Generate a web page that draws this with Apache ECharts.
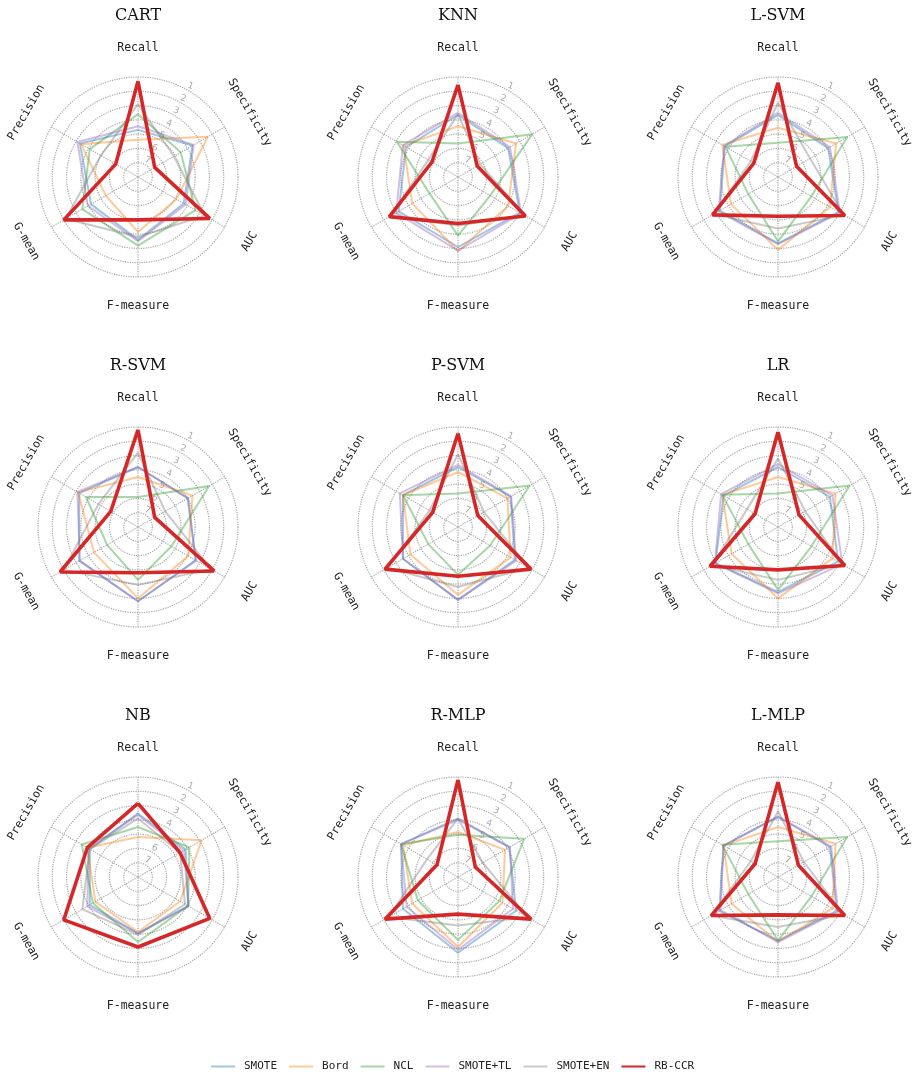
<!DOCTYPE html>
<html><head><meta charset="utf-8">
<script src="https://cdn.jsdelivr.net/npm/echarts@6/dist/echarts.min.js"></script>
<style>html,body{margin:0;padding:0;background:#fff}#c{width:917px;height:1072px}</style>
</head><body><div id="c"></div>
<script>
// ---- data ----
const metrics = ['Recall', 'Specificity', 'AUC', 'F-measure', 'G-mean', 'Precision'];
const metricAngles = [0, 60, 120, 180, 240, 300];
const methods = ['SMOTE', 'Bord', 'NCL', 'SMOTE+TL', 'SMOTE+EN', 'RB-CCR'];
const classifiers = ['CART', 'KNN', 'L-SVM', 'R-SVM', 'P-SVM', 'LR', 'NB', 'R-MLP', 'L-MLP'];
const rankTicks = [1, 2, 3, 4, 5, 6, 7];

// average ranks, order of metrics: Recall, Specificity, AUC, F-measure, G-mean, Precision
// rows: SMOTE, Bord, NCL, SMOTE+TL, SMOTE+EN, RB-CCR
const CART = [
  [4.70, 3.60, 4.30, 3.60, 4.20, 3.30],
  [5.40, 2.35, 4.90, 4.15, 5.40, 3.40],
  [3.60, 4.55, 3.35, 3.20, 3.50, 4.10],
  [4.45, 3.50, 4.15, 3.50, 3.95, 3.10],
  [2.90, 5.10, 2.60, 3.80, 2.15, 5.00],
  [1.30, 6.65, 2.20, 5.00, 2.00, 6.20]
];
const KNN = [
  [3.65, 3.95, 3.00, 3.10, 3.20, 3.80],
  [4.45, 3.30, 3.95, 2.80, 4.30, 3.60],
  [5.65, 2.00, 5.40, 3.90, 5.70, 3.05],
  [3.50, 3.80, 2.90, 2.85, 3.00, 3.55],
  [3.60, 6.20, 2.60, 4.60, 2.50, 5.60],
  [1.55, 6.45, 2.55, 4.75, 2.45, 5.90]
];
const LSVM = [
  [3.65, 3.95, 3.10, 3.35, 3.30, 3.70],
  [4.55, 3.30, 3.80, 2.90, 4.20, 3.50],
  [5.60, 2.40, 5.30, 3.50, 5.60, 3.75],
  [3.50, 3.80, 3.00, 3.30, 3.20, 3.65],
  [2.80, 5.40, 2.70, 4.40, 2.80, 5.80],
  [1.40, 6.50, 2.60, 5.25, 2.70, 6.05]
];
const RSVM = [
  [3.80, 3.95, 3.35, 2.80, 3.25, 3.25],
  [4.50, 3.60, 3.95, 3.00, 4.45, 3.15],
  [5.90, 2.25, 5.30, 4.30, 5.50, 3.80],
  [3.80, 4.00, 3.30, 2.80, 3.30, 3.10],
  [2.80, 5.80, 2.10, 3.95, 2.00, 4.80],
  [1.20, 6.65, 1.85, 4.80, 1.70, 5.80]
];
const PSVM = [
  [3.80, 3.75, 3.40, 2.90, 3.55, 3.55],
  [4.15, 4.00, 3.75, 3.25, 4.15, 3.55],
  [5.65, 2.20, 5.40, 4.65, 5.60, 3.55],
  [3.65, 3.70, 3.30, 2.90, 3.55, 3.30],
  [2.90, 5.90, 2.30, 3.80, 2.30, 5.70],
  [1.45, 6.40, 2.10, 4.55, 2.10, 5.95]
];
const LR = [
  [3.80, 3.80, 3.15, 3.45, 2.95, 3.60],
  [4.50, 3.35, 3.60, 3.00, 4.25, 3.50],
  [5.65, 2.20, 5.30, 3.60, 5.60, 3.50],
  [3.60, 3.60, 2.80, 3.35, 2.90, 3.40],
  [3.20, 5.80, 2.80, 4.30, 2.70, 5.50],
  [1.35, 6.30, 2.60, 5.00, 2.50, 6.15]
];
const NB = [
  [3.55, 4.15, 3.95, 4.05, 4.10, 4.10],
  [5.20, 2.85, 4.60, 4.15, 4.55, 3.90],
  [4.50, 3.85, 3.95, 3.45, 4.35, 3.45],
  [3.65, 4.30, 3.90, 4.05, 3.90, 4.00],
  [3.90, 4.60, 4.20, 3.95, 3.50, 4.10],
  [2.85, 4.60, 2.20, 3.10, 2.00, 3.90]
];
const RMLP = [
  [3.90, 3.85, 3.30, 2.70, 3.55, 3.40],
  [4.85, 4.20, 4.40, 3.10, 4.30, 3.55],
  [5.05, 2.65, 4.65, 3.60, 4.75, 3.40],
  [4.00, 3.80, 3.55, 2.90, 3.85, 3.40],
  [3.90, 6.00, 2.40, 4.60, 2.40, 5.50],
  [1.20, 6.60, 2.10, 5.40, 2.10, 6.30]
];
const LMLP = [
  [3.80, 3.80, 3.25, 3.55, 3.25, 3.60],
  [4.50, 3.35, 3.60, 3.45, 4.25, 3.60],
  [5.50, 2.40, 5.30, 3.55, 5.60, 3.50],
  [3.75, 3.70, 3.15, 3.45, 3.35, 3.60],
  [3.40, 5.90, 2.70, 4.50, 2.60, 5.80],
  [1.35, 6.35, 2.60, 5.35, 2.60, 6.15]
];
const tables = [CART, KNN, LSVM, RSVM, PSVM, LR, NB, RMLP, LMLP];

// ---- styles / layout ----
const colors = ['#1f77b4', '#ff7f0e', '#2ca02c', '#9467bd', '#7f7f7f', '#d62728'];
const opac = [0.42, 0.42, 0.42, 0.42, 0.42, 1];
const widths = [2, 2, 2, 2, 2, 3.6];
const colX = [138, 458, 778];
const rowY = [177, 527, 877];
const R = 100;
const gridColor = '#a8a8a8';

const chart = echarts.init(document.getElementById('c'));

const polar = [], angleAxis = [], radiusAxis = [], series = [];
classifiers.forEach((c, i) => {
  const cx = colX[i % 3], cy = rowY[Math.floor(i / 3)];
  polar.push({ center: [cx, cy], radius: R });
  angleAxis.push({
    polarIndex: i, type: 'value', min: 0, max: 360, interval: 60, startAngle: 90, clockwise: true,
    axisLine: { show: false }, axisTick: { show: false }, axisLabel: { show: false },
    splitLine: { show: true, lineStyle: { color: gridColor, type: 'dotted', width: 1.2 } }
  });
  radiusAxis.push({
    polarIndex: i, type: 'value', min: 1, max: 8, interval: 1, inverse: true,
    axisLine: { show: false }, axisTick: { show: false }, axisLabel: { show: false },
    splitLine: { show: true, lineStyle: { color: gridColor, type: 'dotted', width: 1.2 } }
  });
  methods.forEach((m, j) => {
    const vals = tables[i][j];
    const data = vals.map((v, k) => [v, metricAngles[k]]);
    data.push([vals[0], 360]);
    series.push({
      type: 'line', coordinateSystem: 'polar', polarIndex: i, name: m,
      symbol: 'none', clip: false, silent: true, animation: false,
      data: data,
      color: colors[j],
      itemStyle: { color: colors[j], opacity: opac[j] },
      lineStyle: { color: colors[j], width: widths[j], opacity: opac[j] },
      z: 2 + j
    });
  });
});

chart.setOption({
  animation: false,
  polar, angleAxis, radiusAxis, series,
  legend: {
    data: methods, left: 205, top: 1056,
    itemWidth: 24, itemHeight: 12, itemGap: 11,
    itemStyle: { opacity: 0 },
    textStyle: { fontFamily: 'DejaVu Sans Mono', fontSize: 11, color: '#222', padding: [0, 0, 0, 4] }
  }
});

// ---- text: titles, axis names, rank tick labels ----
const graphics = [];
classifiers.forEach((c, i) => {
  const cx = colX[i % 3], cy = rowY[Math.floor(i / 3)];
  graphics.push({
    type: 'text', x: cx, y: cy - 161, silent: true,
    style: { text: c, fontFamily: 'DejaVu Serif', fontSize: 16, fill: '#111', align: 'center', verticalAlign: 'middle' }
  });
  metrics.forEach((m, k) => {
    const th = metricAngles[k] * Math.PI / 180;
    let rotDeg = -metricAngles[k];
    while (rotDeg <= -90) rotDeg += 180;
    while (rotDeg > 90) rotDeg -= 180;
    graphics.push({
      type: 'text', x: cx + 129 * Math.sin(th), y: cy - 129 * Math.cos(th),
      rotation: rotDeg * Math.PI / 180, silent: true,
      style: { text: m, fontFamily: 'DejaVu Sans Mono', fontSize: 11.5, fill: '#222', align: 'center', verticalAlign: 'middle' }
    });
  });
  rankTicks.forEach(t => {
    let p = chart.convertToPixel({ seriesIndex: i * methods.length }, [t - 0.35, 30]);
    if (!p) {
      const rr = (8 - t + 0.35) / 7 * R, a = Math.PI / 6;
      p = [cx + rr * Math.sin(a), cy - rr * Math.cos(a)];
    }
    graphics.push({
      type: 'text', x: p[0], y: p[1], rotation: -0.35, silent: true,
      style: { text: String(t), fontFamily: 'DejaVu Sans', fontSize: 9, fill: '#aaa', align: 'center', verticalAlign: 'middle' }
    });
  });
});
chart.setOption({ graphic: graphics });
</script>
</body></html>
